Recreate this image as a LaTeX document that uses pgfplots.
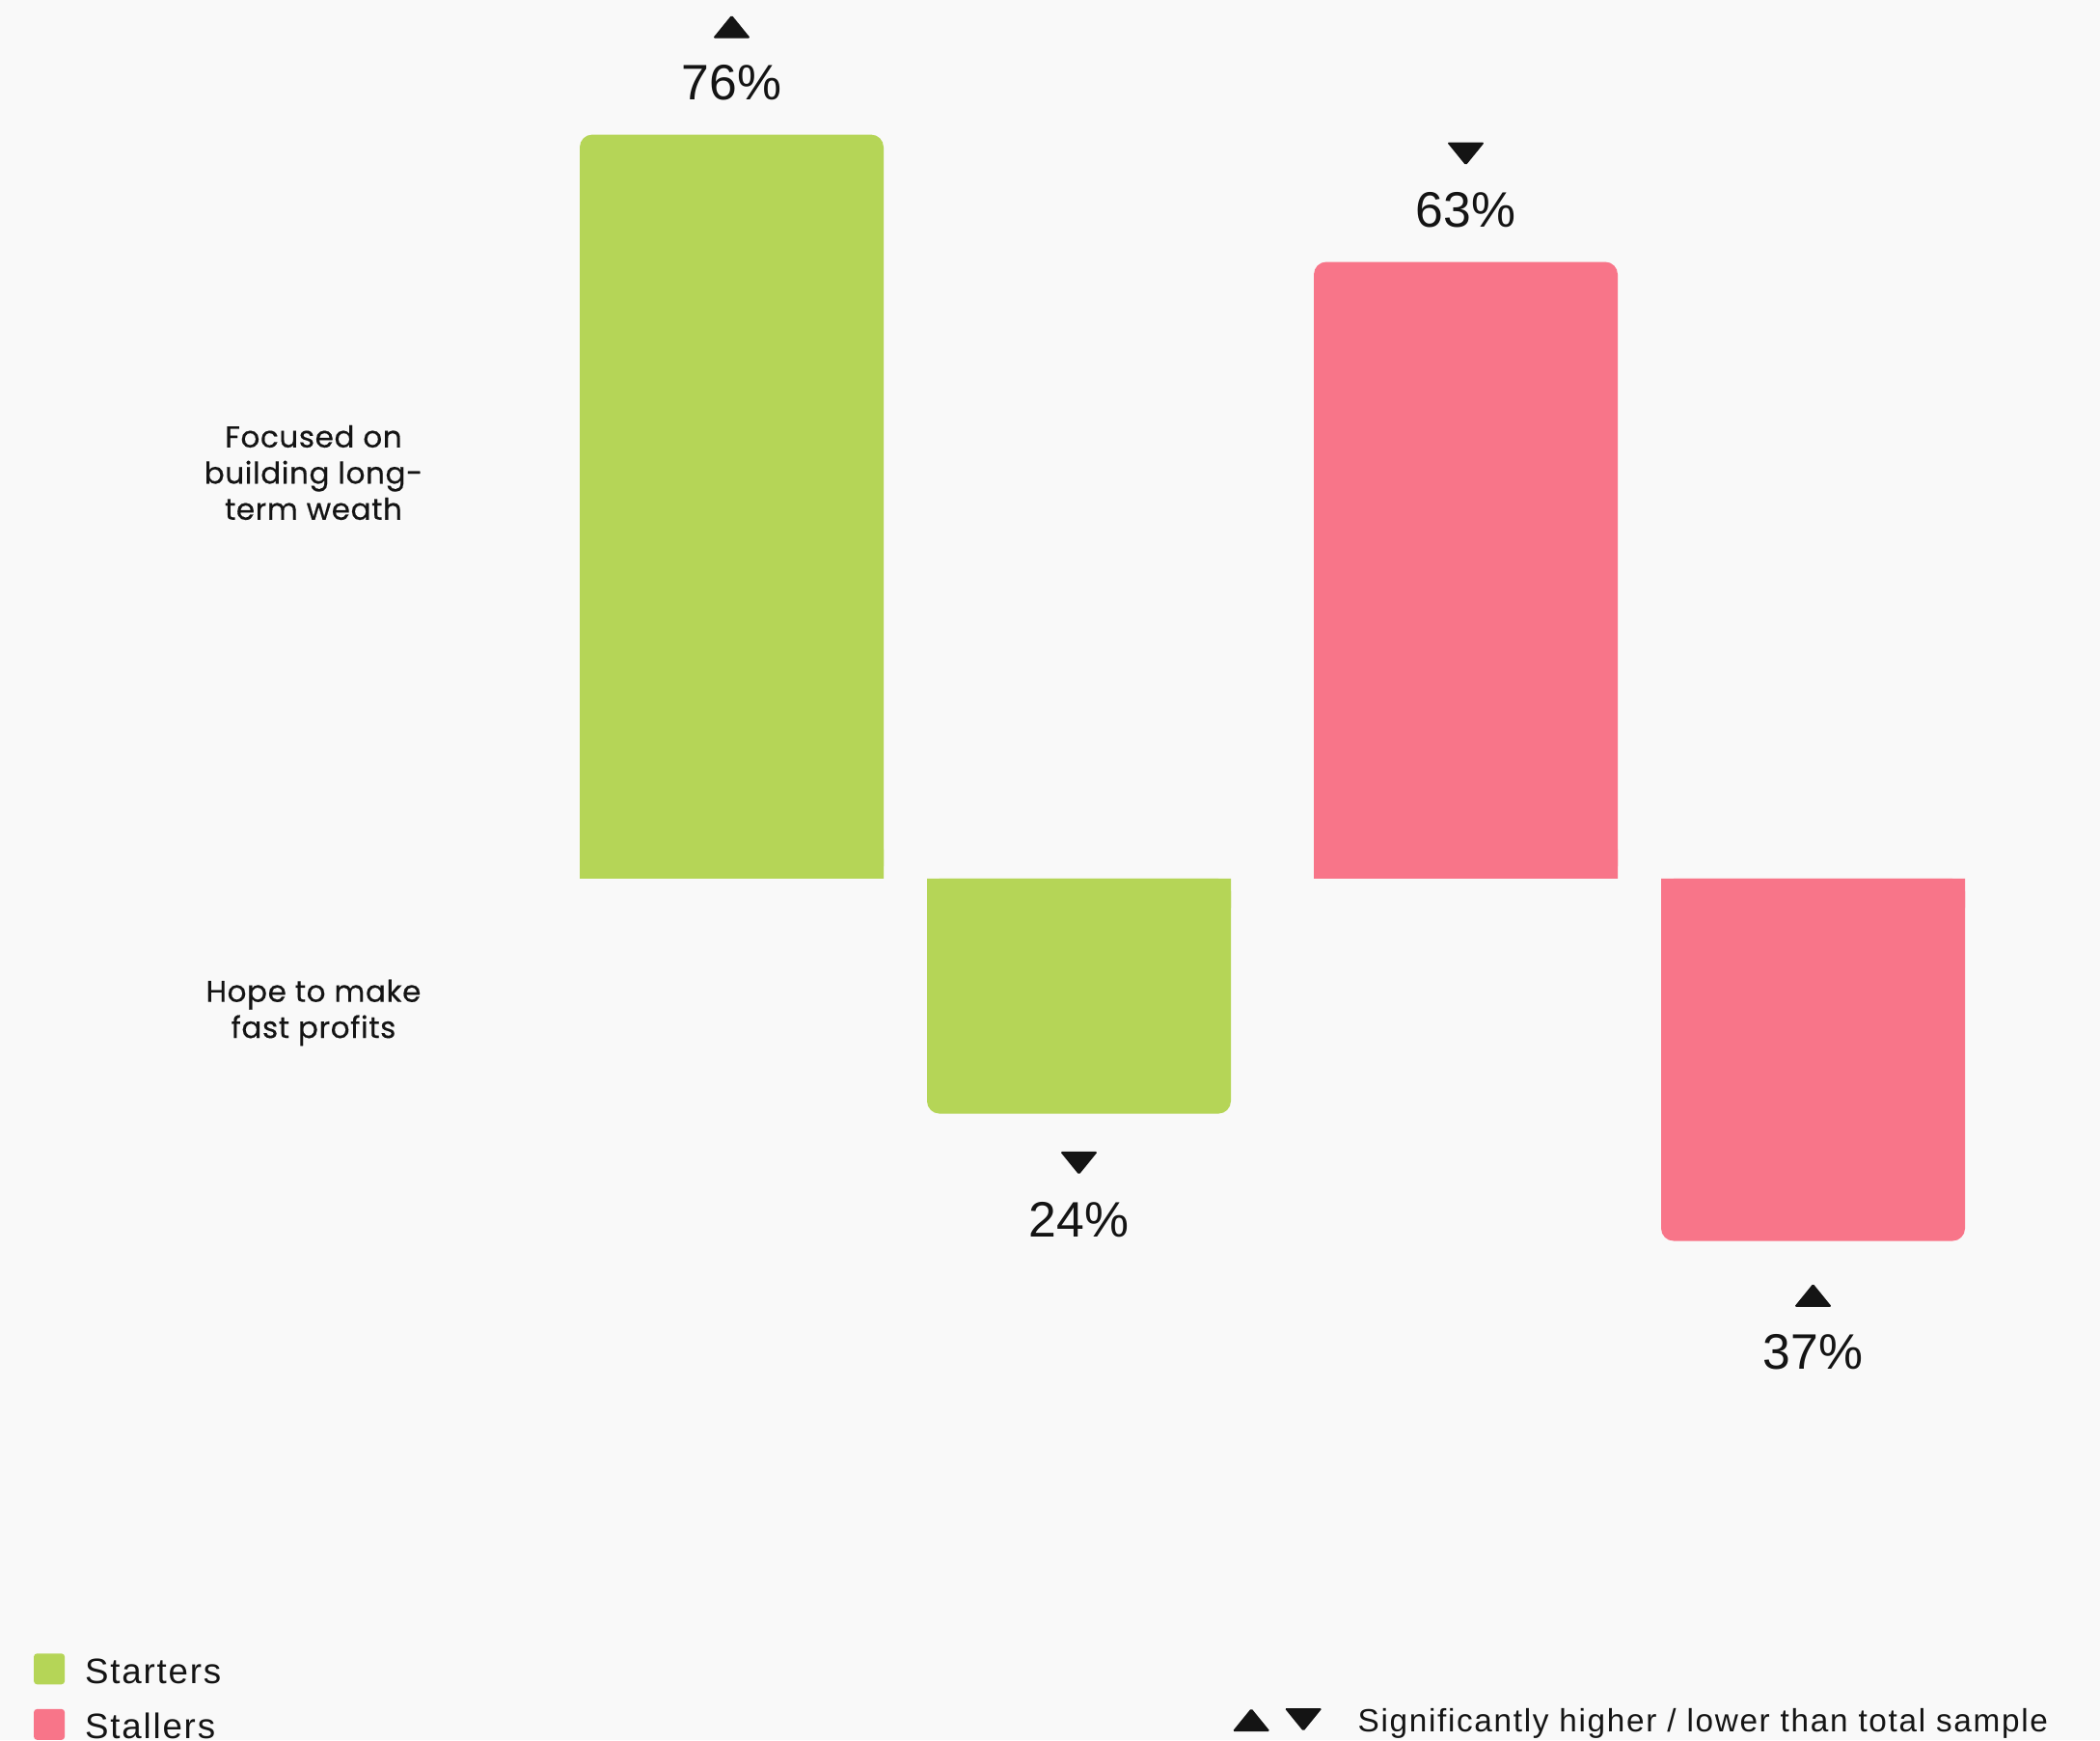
\documentclass[border=0pt]{standalone}
\usepackage{pgfplots}
\pgfplotsset{compat=1.18}
\usepackage{pgfplotstable}
\usepackage{fontspec}
\setmainfont{Liberation Sans}
\newfontfamily\catfont{Poppins}[FakeBold=0.4,LetterSpace=2]
\newfontfamily\valfont{Liberation Sans}
\newfontfamily\legfont{Liberation Sans}[LetterSpace=5]
\newfontfamily\notefont{Liberation Sans}[LetterSpace=5]
\definecolor{bg}{HTML}{F9F9F9}
\definecolor{starters}{HTML}{B5D557}
\definecolor{stallers}{HTML}{F87589}
\definecolor{ink}{HTML}{141414}
\newcommand\uptri{\tikz[baseline=0pt]\fill[ink,rounded corners=0.5pt] (0pt,0pt)--(11.7pt,0pt)--(5.85pt,7.2pt)--cycle;}
\newcommand\downtri{\tikz[baseline=0pt]\fill[ink,rounded corners=0.5pt] (0pt,7.2pt)--(11.7pt,7.2pt)--(5.85pt,0pt)--cycle;}
% label box: triangle (7.2pt) + gap (8pt) + number (forced 11.3pt high, no depth) = 26.5pt
\newcommand\vlabel[2]{\vbox{\offinterlineskip\hbox to 0pt{\hss#1\hss}\kern8pt\hbox to 0pt{\hss\raisebox{0pt}[11.3pt][0pt]{#2}\hss}}}

% ysh: shift of the label box bottom from the bar end (south anchor)
\pgfplotstableread{
x v sig ysh
0 76 1 10.5
1 -24 -1 -38.5
}\starters
\pgfplotstableread{
x v sig ysh
2.114 63 -1 10.5
3.114 -37 1 -40
}\stallers

\pgfplotsset{
  mybar/.style={ybar, bar shift=0pt, bar width=94.5pt, draw=none, fill=#1,
    legend image code/.code={\fill[#1,rounded corners=1pt] (0pt,-0.3pt) rectangle (9.6pt,9.3pt); \path (13.9pt,0pt);}},
  vallabels/.style={
    point meta={abs(\thisrow{v})},
    visualization depends on={\thisrow{sig} \as \sig},
    visualization depends on={\thisrow{ysh} \as \ysh},
    nodes near coords={\vlabel{\ifdim\sig pt>0pt \uptri\else\downtri\fi}{\valfont\fontsize{15.5}{18}\selectfont\pgfmathprintnumber[assume math mode=true]{\pgfplotspointmeta}\%}},
    every node near coord/.append style={anchor=south, yshift=\ysh pt, inner sep=0pt, text=ink},
  },
}

\begin{document}
\begin{tikzpicture}
\fill[bg] (0,0) rectangle (653.1pt,541.2pt);
\useasboundingbox (0,0) rectangle (653.1pt,541.2pt);
\begin{axis}[
  at={(119.55pt,115.65pt)}, anchor=south west,
  scale only axis, width=540pt, height=395.85pt,
  xmin=-1, xmax=4, ymin=-50, ymax=80,
  clip=false,
  axis lines*=left, axis line style={draw=none}, tick style={draw=none},
  xtick=\empty,
  ytick={-13.69,41.48},
  yticklabels={{Hope to make\\fast profits},{Focused on\\building long-\\term weath}},
  yticklabel style={align=center, anchor=center, xshift=-22.05pt, text=ink, font=\catfont\fontsize{9.3}{11.25}\selectfont},
  legend style={at={(axis description cs:-0.2019,-0.2232)}, anchor=north west, draw=none, fill=none, inner sep=0pt, outer sep=0pt, row sep=3.8pt, font=\legfont\fontsize{11}{13}\selectfont, text=ink, cells={anchor=base west, inner sep=0pt}},
]
\addplot[mybar=starters, rounded corners=3.9pt, vallabels] table[x=x, y=v] {\starters};
\addlegendentry{Starters}
\addplot[mybar=stallers, rounded corners=3.9pt, vallabels] table[x=x, y=v] {\stallers};
\addlegendentry{Stallers}
\addplot[mybar=starters, forget plot] table[x=x, y expr={(\thisrow{v}>0) ? 3 : -3}] {\starters};
\addplot[mybar=stallers, forget plot] table[x=x, y expr={(\thisrow{v}>0) ? 3 : -3}] {\stallers};
\end{axis}
\node[anchor=base west, inner sep=0pt, text=ink] at (383.1pt,2.7pt) {\uptri\hspace{4.5pt}\downtri\hspace{11.1pt}{\notefont\fontsize{10}{12}\selectfont Significantly higher / lower than total sample}};
\end{tikzpicture}
\end{document}
